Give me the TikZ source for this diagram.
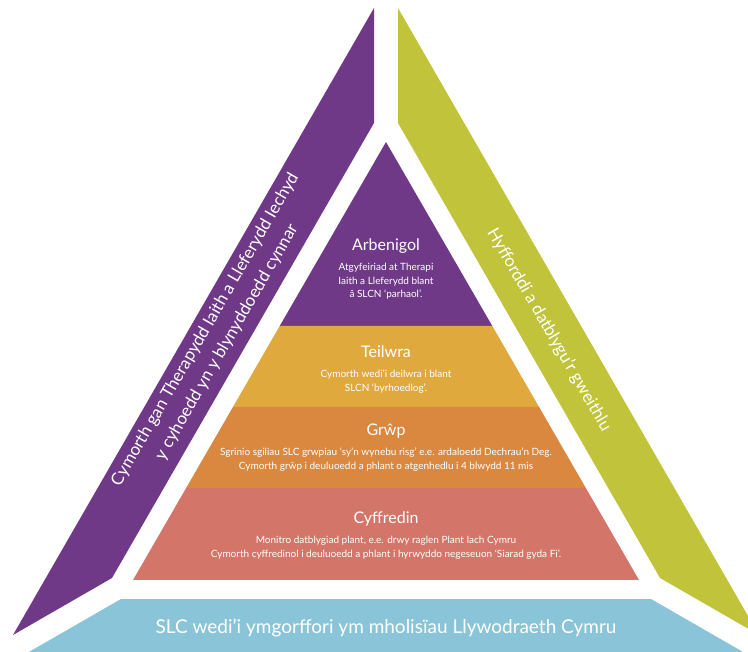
\documentclass[tikz,border=0pt]{standalone}
\usepackage{fontspec}
\setmainfont{Lato}
\usepackage{tikz}
\usetikzlibrary{calc,positioning}

\definecolor{bandpurple}{RGB}{111,57,135}
\definecolor{bandgreen}{RGB}{193,196,58}
\definecolor{tiergold}{RGB}{224,169,62}
\definecolor{tierorange}{RGB}{218,136,64}
\definecolor{tiersalmon}{RGB}{212,117,106}
\definecolor{baseblue}{RGB}{137,196,216}

\begin{document}
\begin{tikzpicture}[x=1pt,y=-1pt]

  % Parameters
  \def\apexy{142}
  \def\basey{580}

  % Styles
  \tikzstyle{every node}=[text=white,align=center,inner sep=0pt]
  \tikzstyle{title}=[font=\fontsize{16}{19}\selectfont,text height=11.5pt,text depth=0pt]
  \tikzstyle{body}=[font=\fontsize{10}{13.5}\selectfont]
  \tikzstyle{band}=[font=\fontsize{17}{25}\selectfont]
  \tikzstyle{policy}=[font=\fontsize{19}{22}\selectfont]

  % \tier{<colour>}{<top y>}{<bottom y>}
  \newcommand{\tier}[3]{%
    \fill[#1] ($(apex)!{(#2-\apexy)/(\basey-\apexy)}!(base-l)$)
      -- ($(apex)!{(#2-\apexy)/(\basey-\apexy)}!(base-r)$)
      -- ($(apex)!{(#3-\apexy)/(\basey-\apexy)}!(base-r)$)
      -- ($(apex)!{(#3-\apexy)/(\basey-\apexy)}!(base-l)$) -- cycle;
  }

  % ===========================================================================

  \useasboundingbox (0,0) rectangle (748,652);
  \clip (0,0) rectangle (748,652);

  % Side bands and base band
  \fill[bandpurple] (374,8) -- (374,123) -- (112,578) -- (13,635) -- cycle;
  \fill[bandgreen] (398,8) -- (398,123) -- (660,578) -- (759,635) -- cycle;
  \fill[baseblue] (121,599) -- (651,599) -- (757,660) -- (15,660) -- cycle;

  % Pyramid
  \coordinate (apex) at (386,\apexy);
  \coordinate (base-l) at (133,\basey);
  \coordinate (base-r) at (639,\basey);
  \tier{bandpurple}{\apexy}{326}
  \tier{tiergold}{326}{407}
  \tier{tierorange}{407}{488}
  \tier{tiersalmon}{488}{\basey}

  % Tier texts
  \node[title] (arbenigol) at (386,245) {Arbenigol};
  \node[body,below=12pt of arbenigol] (arbenigol-body)
    {Atgyfeiriad at Therapi\\Iaith a Lleferydd blant\\â SLCN ‘parhaol’.};
  \node[title] (teilwra) at (386,352) {Teilwra};
  \node[body,below=12pt of teilwra] (teilwra-body)
    {Cymorth wedi’i deilwra i blant\\SLCN ‘byrhoedlog’.};
  \node[title] (grwp) at (386,430) {Grŵp};
  \node[body,below=12pt of grwp] (grwp-body)
    {Sgrinio sgiliau SLC grwpiau ‘sy’n wynebu risg’ e.e. ardaloedd Dechrau’n Deg.\\Cymorth grŵp i deuluoedd a phlant o atgenhedlu i 4 blwydd 11 mis};
  \node[title] (cyffredin) at (386,518) {Cyffredin};
  \node[body,below=12pt of cyffredin] (cyffredin-body)
    {Monitro datblygiad plant, e.e. drwy raglen Plant Iach Cymru\\Cymorth cyffredinol i deuluoedd a phlant i hyrwyddo negeseuon ‘Siarad gyda Fi’.};

  % Band texts
  \node[band,rotate=60] (support) at (216,336)
    {Cymorth gan Therapydd Iaith a Lleferydd Iechyd\\y cyhoedd yn y blynyddoedd cynnar};
  \node[band,rotate=-60] (training) at (549,330) {Hyfforddi a datblygu’r gweithlu};
  \node[policy] (policy) at (386,628) {SLC wedi’i ymgorffori ym mholisïau Llywodraeth Cymru};

\end{tikzpicture}
\end{document}
